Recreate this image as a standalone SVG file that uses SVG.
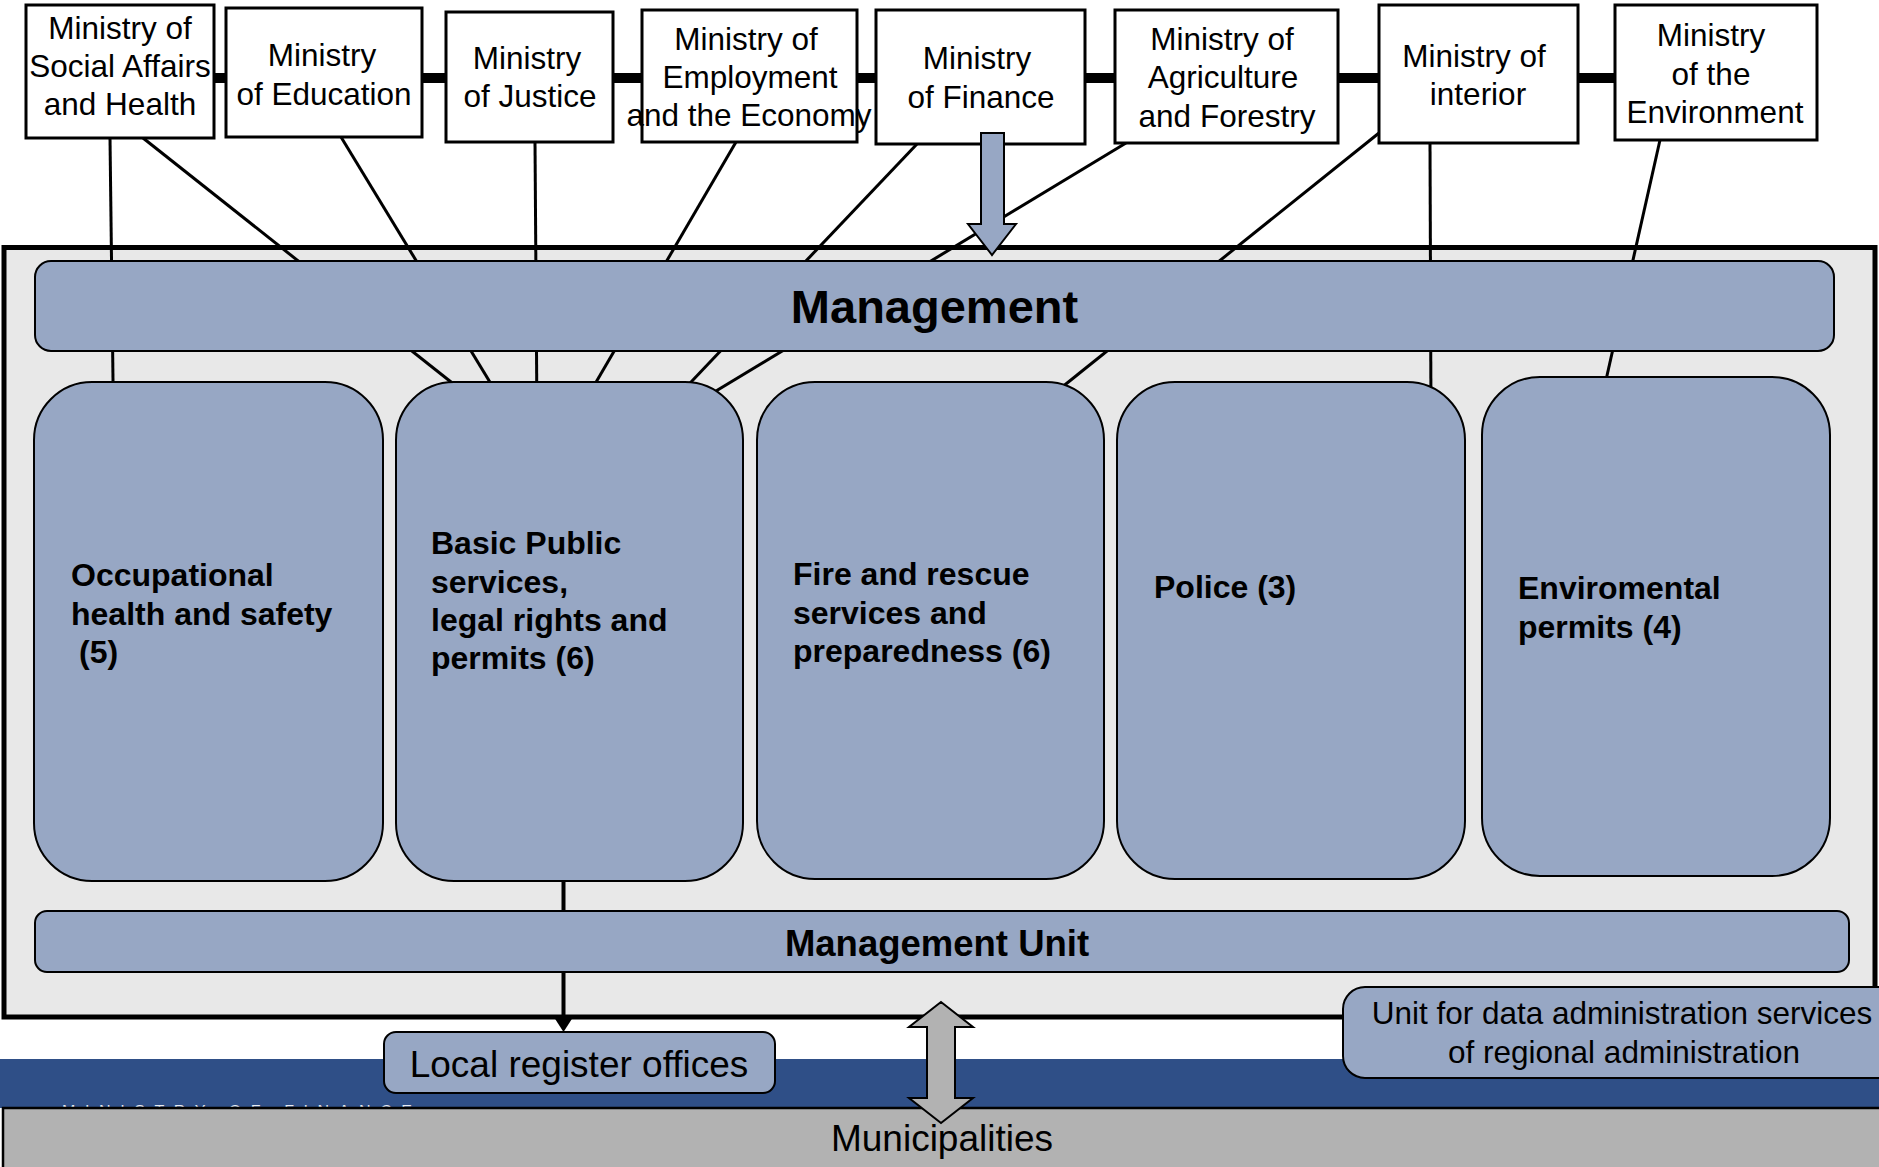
<svg xmlns="http://www.w3.org/2000/svg" width="1879" height="1167" viewBox="0 0 1879 1167">
<defs>
<style>
.min rect{fill:#fff;stroke:#000;stroke-width:3}
.min text{font-family:"Liberation Sans",Arial,sans-serif;font-size:31.5px;fill:#000;text-anchor:middle}
.blue{fill:#97a7c4;stroke:#000;stroke-width:2}
.svc text{font-family:"Liberation Sans",Arial,sans-serif;font-size:32px;font-weight:bold;fill:#000}
.conn line{stroke:#000;stroke-width:3;fill:none}
.lbl{font-family:"Liberation Sans",Arial,sans-serif;fill:#000}
</style>
</defs>
<rect x="0" y="0" width="1879" height="1167" fill="#fff"/>
<g id="band">
<rect x="0" y="1059" width="1879" height="49" fill="#2f4f87"/>
<text x="62" y="1117" font-family="Liberation Sans,Arial,sans-serif" font-size="16" letter-spacing="9.6" fill="#e8ecf4">MINISTRY OF FINANCE</text>
</g>
<g id="municipalities">
<rect x="3" y="1108" width="1900" height="100" fill="#b2b2b2" stroke="#000" stroke-width="2.5"/>
<text class="lbl" x="942" y="1151" font-size="37" text-anchor="middle">Municipalities</text>
</g>
<g id="container">
<rect x="4" y="247.5" width="1871" height="769.5" fill="#e8e8e8" stroke="#000" stroke-width="5"/>
</g>
<g id="connectors" class="conn">
<line x1="214" y1="78" x2="1615" y2="78" style="stroke-width:10"/>
<line x1="110" y1="138" x2="113.5" y2="420"/>
<line x1="143" y1="138" x2="499" y2="420"/>
<line x1="341" y1="137" x2="513" y2="420"/>
<line x1="535" y1="142" x2="537" y2="420"/>
<line x1="736" y1="142" x2="574" y2="420"/>
<line x1="917" y1="144" x2="655" y2="420"/>
<line x1="1126" y1="143" x2="668" y2="420"/>
<line x1="1379" y1="133" x2="1021" y2="420"/>
<line x1="1430" y1="143" x2="1431" y2="420"/>
<line x1="1660" y1="140" x2="1597" y2="420"/>
<line x1="563.5" y1="860" x2="563.5" y2="1020" style="stroke-width:4"/>
<polygon points="554.5,1018 572.5,1018 563.5,1032" fill="#000"/>
</g>
<g id="min-social" class="min"><rect x="26" y="5" width="188" height="133"/><text x="120" y="39">Ministry of</text><text x="120" y="77">Social Affairs</text><text x="120" y="115">and Health</text></g>
<g id="min-education" class="min"><rect x="226" y="8" width="196" height="129"/><text x="322" y="66">Ministry</text><text x="324" y="105">of Education</text></g>
<g id="min-justice" class="min"><rect x="446" y="12" width="167" height="130"/><text x="527" y="69">Ministry</text><text x="530" y="107">of Justice</text></g>
<g id="min-employment" class="min"><rect x="642" y="10" width="215" height="132"/><text x="746" y="50">Ministry of</text><text x="750" y="88">Employment</text><text x="749" y="126">and the Economy</text></g>
<g id="min-finance" class="min"><rect x="876" y="10" width="209" height="134"/><text x="977" y="69">Ministry</text><text x="981" y="108">of Finance</text></g>
<g id="min-agriculture" class="min"><rect x="1115" y="10" width="223" height="133"/><text x="1222" y="50">Ministry of</text><text x="1223" y="88">Agriculture</text><text x="1227" y="127">and Forestry</text></g>
<g id="min-interior" class="min"><rect x="1379" y="5" width="199" height="138"/><text x="1474" y="67">Ministry of</text><text x="1478" y="105">interior</text></g>
<g id="min-environment" class="min"><rect x="1615" y="5" width="202" height="135"/><text x="1711" y="46">Ministry</text><text x="1711" y="85">of the</text><text x="1715" y="123">Environment</text></g>
<g id="management">
<rect class="blue" x="35" y="261" width="1799" height="90" rx="16"/>
<text class="lbl" x="934.5" y="323" font-size="47" font-weight="bold" text-anchor="middle">Management</text>
</g>
<g id="svc-occupational" class="svc"><rect class="blue" x="34" y="382" width="349" height="499" rx="58"/><text x="71" y="586">Occupational</text><text x="71" y="625">health and safety</text><text x="79" y="663">(5)</text></g>
<g id="svc-basic" class="svc"><rect class="blue" x="396" y="382" width="347" height="499" rx="58"/><text x="431" y="554">Basic Public</text><text x="431" y="593">services,</text><text x="431" y="631">legal rights and</text><text x="431" y="669">permits (6)</text></g>
<g id="svc-fire" class="svc"><rect class="blue" x="757" y="382" width="347" height="497" rx="58"/><text x="793" y="585">Fire and rescue</text><text x="793" y="624">services and</text><text x="793" y="662">preparedness (6)</text></g>
<g id="svc-police" class="svc"><rect class="blue" x="1117" y="382" width="348" height="497" rx="58"/><text x="1154" y="598">Police (3)</text></g>
<g id="svc-env" class="svc"><rect class="blue" x="1482" y="377" width="348" height="499" rx="58"/><text x="1518" y="599">Enviromental</text><text x="1518" y="638">permits (4)</text></g>
<g id="management-unit">
<rect class="blue" x="35" y="911" width="1814" height="61" rx="12"/>
<text class="lbl" x="937" y="956" font-size="36.5" font-weight="bold" text-anchor="middle">Management Unit</text>
</g>
<g id="local-register">
<rect class="blue" x="384" y="1032" width="391" height="61" rx="12"/>
<text class="lbl" x="579" y="1077" font-size="37" text-anchor="middle">Local register offices</text>
</g>
<g id="data-unit">
<rect class="blue" x="1343" y="987" width="560" height="91" rx="22"/>
<text class="lbl" x="1622" y="1024" font-size="31.5" text-anchor="middle">Unit for data administration services</text>
<text class="lbl" x="1624" y="1063" font-size="31.5" text-anchor="middle">of regional administration</text>
</g>
<g id="finance-arrow">
<polygon points="981,133 1004,133 1004,224 1016,224 992,255 968,224 981,224" fill="#97a7c4" stroke="#000" stroke-width="2"/>
</g>
<g id="double-arrow">
<polygon points="941,1002 973,1027 955,1027 955,1098 973,1098 941,1123 909,1098 927,1098 927,1027 909,1027" fill="#b2b2b2" stroke="#000" stroke-width="2"/>
</g>
</svg>
